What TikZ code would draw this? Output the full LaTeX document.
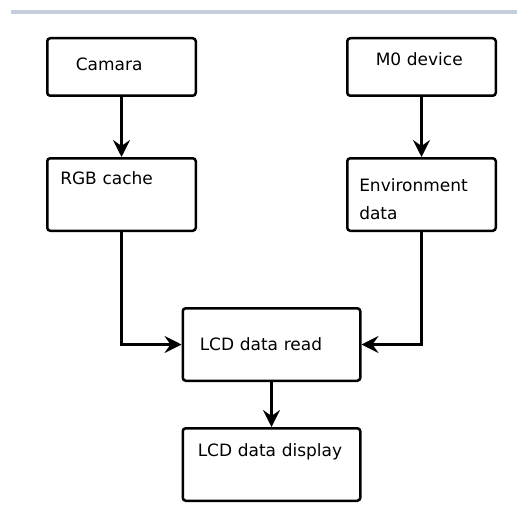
\documentclass[tikz,border=0pt]{standalone}
\usepackage{xcolor}
\usepackage{fontspec}
\setmainfont{DejaVu Sans}
\usepackage{tikz}
\usetikzlibrary{arrows.meta, positioning, calc}
\definecolor{barblue}{RGB}{197,206,220}
\tikzstyle{block} = [draw, rectangle, rounded corners=3pt, line width=2.5pt, align=left, font=\fontsize{17pt}{28pt}\selectfont]
\tikzstyle{arrow} = [draw, line width=2.5pt, -{Stealth[length=17pt, width=17pt, inset=6pt]}]

\begin{document}
\begin{tikzpicture}[x=1pt, y=-1pt]
    \useasboundingbox (0,0) rectangle (517,524);
    \fill [barblue] (11,10) rectangle (517,14.5);

    \node (cam) [block, minimum height=57.5pt, inner xsep=28.5pt, text width=91.5pt, text depth=6pt] at (121.5,67) {Camara};
    \node (m0) [block, minimum height=57.5pt, inner xsep=28.5pt, text width=91.5pt, text depth=16pt, right=149pt of cam] {M0 device};
    \node (rgb) [block, minimum height=72.5pt, inner xsep=13pt, text width=122.5pt, below=60pt of cam] {RGB cache\\[4pt]\mbox{}};
    \node (env) [block, minimum height=72.5pt, inner xsep=12pt, text width=124.5pt, text height=23pt, below=60pt of m0] {Environment\\data};

    \coordinate (mid) at ($(rgb.south)!0.5!(env.south)$);
    \node (read) [block, minimum height=72.5pt, inner xsep=17pt, text width=143.5pt, below=75pt of mid] {LCD data read};
    \node (disp) [block, minimum height=72.5pt, inner xsep=15pt, text width=147.5pt, below=45pt of read] {LCD data display\\\mbox{}};

    \draw [arrow] (cam) -- (rgb);
    \draw [arrow] (m0) -- (env);
    \draw [arrow] (rgb) |- (read);
    \draw [arrow] (env) |- (read);
    \draw [arrow] (read) -- (disp);
\end{tikzpicture}
\end{document}
